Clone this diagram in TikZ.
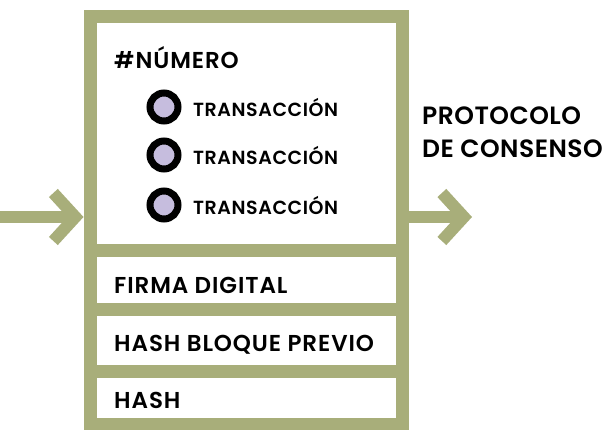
\documentclass[tikz,border=0pt]{standalone}
\usepackage{fontspec}
\setmainfont{Poppins}[BoldFont={Poppins SemiBold}, LetterSpace=4]
\usetikzlibrary{arrows.meta}
\definecolor{oliva}{RGB}{168,174,122}
\definecolor{lila}{RGB}{198,189,222}

\begin{document}
\begin{tikzpicture}[x=1pt,y=-1pt, every node/.style={inner sep=0pt}]
    \tikzstyle{marco}=[draw=oliva, line width=13pt]
    \tikzstyle{flecha}=[draw=oliva, line width=12pt, -{Straight Barb[length=22pt,width=48pt]}]
    \tikzstyle{punto}=[circle, draw=black, line width=7pt, fill=lila, minimum size=28pt]
    \tikzstyle{campo}=[anchor=west, font=\bfseries\fontsize{23}{27}\selectfont]
    \tikzstyle{tx}=[anchor=west, font=\bfseries\fontsize{19}{23}\selectfont\addfontfeature{LetterSpace=3}]

    \useasboundingbox (0,0) rectangle (613,430);

    % entrada y salida
    \coordinate (entrada) at (0,217);
    \coordinate (salida) at (472,217);

    % bloque
    \node[marco, minimum width=312pt, minimum height=407pt] (bloque) at (246,220.5) {};
    \foreach \i/\y in {1/251, 2/310, 3/371} {
        \coordinate (s\i) at (90,\y);
        \draw[marco] (s\i) -- (s\i -| bloque.east);
    }

    \draw[flecha] (entrada) -- (entrada -| bloque.west);
    \draw[flecha] (bloque.east |- salida) -- (salida);

    \node[campo] (numero) at (114,58) {\#NÚMERO};
    \foreach \i/\y in {1/107, 2/155, 3/205} {
        \node[punto] (p\i) at (164,\y) {};
        \node[tx] (t\i) at (193,\y) {TRANSACCIÓN};
    }

    \node[campo] (firma) at (114,285) {FIRMA DIGITAL};
    \node[campo] (previo) at (114,345) {HASH BLOQUE PREVIO};
    \node[campo] (hash) at (114,400) {HASH};

    \node[anchor=north west, align=left, font=\bfseries\fontsize{25}{33}\selectfont\addfontfeature{LetterSpace=2}] (protocolo) at (422,107) {PROTOCOLO\\DE CONSENSO};
\end{tikzpicture}
\end{document}
